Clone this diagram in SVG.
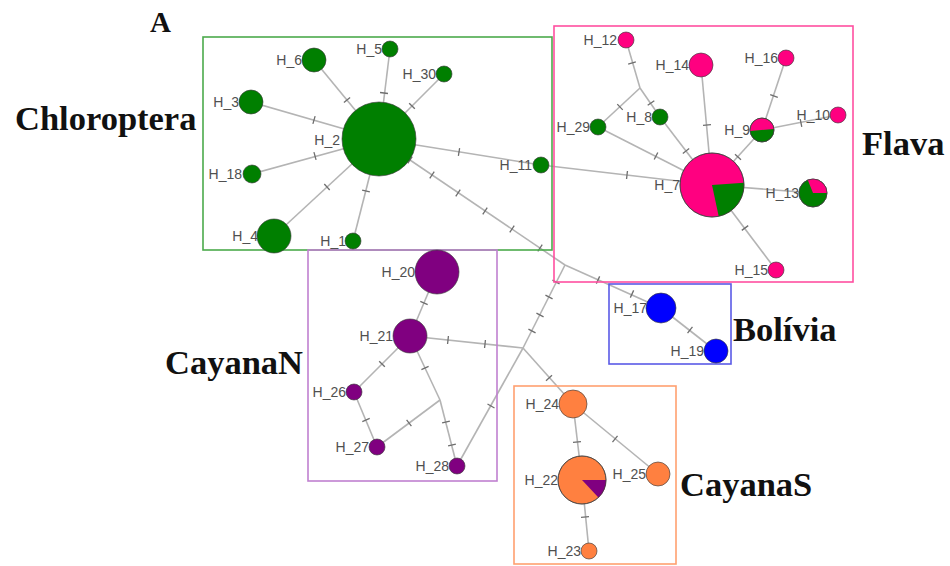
<svg xmlns="http://www.w3.org/2000/svg" xmlns:xlink="http://www.w3.org/1999/xlink" width="950" height="566" viewBox="0 0 950 566">
  <style>
    .ln { stroke: #b4b4b4; stroke-width: 1.6; fill: none; }
    .tk { stroke: #6e6e6e; stroke-width: 1.3; fill: none; }
    .box { fill: none; stroke-width: 1.6; }
    .nd { stroke: #3a3a3a; stroke-width: 0.8; stroke-opacity: 0.8; }
    .g { fill: #007f00; }
    .p { fill: #ff0080; }
    .v { fill: #800080; }
    .b { fill: #0000ff; }
    .o { fill: #ff8040; }
    .lb { font-family: "Liberation Sans", Arial, sans-serif; font-size: 14px; fill: #505050; text-anchor: end; }
    .grp { font-family: "Liberation Serif", "Times New Roman", serif; font-weight: bold; font-size: 34.5px; fill: #111; }
  </style>
  <defs>
    <path id="tick" d="M0,-4V4"/>
  </defs>

  <rect width="950" height="566" fill="#ffffff"/>

  <!-- connectors -->
  <g id="connectors">
    <!-- Chloroptera star around H_2 -->
    <line class="ln" x1="379" y1="139" x2="314" y2="60"/>
    <line class="ln" x1="379" y1="139" x2="251" y2="102"/>
    <line class="ln" x1="379" y1="139" x2="390" y2="49"/>
    <line class="ln" x1="379" y1="139" x2="444" y2="74"/>
    <line class="ln" x1="379" y1="139" x2="541" y2="165"/>
    <line class="ln" x1="379" y1="139" x2="252" y2="174"/>
    <line class="ln" x1="379" y1="139" x2="274" y2="236"/>
    <line class="ln" x1="379" y1="139" x2="353" y2="241"/>
    <line class="ln" x1="379" y1="139" x2="565" y2="265"/>
    <!-- central junctions -->
    <line class="ln" x1="565" y1="265" x2="661" y2="308"/>
    <line class="ln" x1="565" y1="265" x2="523" y2="348"/>
    <line class="ln" x1="523" y1="348" x2="410" y2="336"/>
    <line class="ln" x1="523" y1="348" x2="573" y2="404"/>
    <line class="ln" x1="523" y1="348" x2="457" y2="466"/>
    <!-- CayanaN -->
    <line class="ln" x1="410" y1="336" x2="437" y2="272"/>
    <line class="ln" x1="410" y1="336" x2="354" y2="392"/>
    <line class="ln" x1="410" y1="336" x2="440" y2="400"/>
    <line class="ln" x1="440" y1="400" x2="377" y2="447"/>
    <line class="ln" x1="440" y1="400" x2="457" y2="466"/>
    <line class="ln" x1="354" y1="392" x2="377" y2="447"/>
    <!-- Flava -->
    <line class="ln" x1="626" y1="40" x2="640" y2="88"/>
    <line class="ln" x1="640" y1="88" x2="598" y2="127"/>
    <line class="ln" x1="640" y1="88" x2="660" y2="117"/>
    <line class="ln" x1="660" y1="117" x2="712" y2="185"/>
    <line class="ln" x1="598" y1="127" x2="712" y2="185"/>
    <line class="ln" x1="701" y1="65" x2="712" y2="185"/>
    <line class="ln" x1="541" y1="165" x2="712" y2="185"/>
    <line class="ln" x1="762" y1="130" x2="712" y2="185"/>
    <line class="ln" x1="762" y1="130" x2="786" y2="58"/>
    <line class="ln" x1="762" y1="130" x2="838" y2="115"/>
    <line class="ln" x1="712" y1="185" x2="813" y2="193"/>
    <line class="ln" x1="712" y1="185" x2="776" y2="270"/>
    <!-- Bolivia -->
    <line class="ln" x1="661" y1="308" x2="716" y2="351"/>
    <!-- CayanaS -->
    <line class="ln" x1="573" y1="404" x2="582" y2="480"/>
    <line class="ln" x1="573" y1="404" x2="658" y2="474"/>
    <line class="ln" x1="582" y1="480" x2="589" y2="551"/>

    <!-- mutation ticks -->
    <g class="tk">
      <use xlink:href="#tick" transform="translate(347,100) rotate(50.6)"/>
      <use xlink:href="#tick" transform="translate(314,120) rotate(16.1)"/>
      <use xlink:href="#tick" transform="translate(384,93) rotate(-83)"/>
      <use xlink:href="#tick" transform="translate(412,106) rotate(-45)"/>
      <use xlink:href="#tick" transform="translate(459,152) rotate(9.1)"/>
      <use xlink:href="#tick" transform="translate(315,156) rotate(-15.4)"/>
      <use xlink:href="#tick" transform="translate(327,187) rotate(-42.7)"/>
      <use xlink:href="#tick" transform="translate(366,191) rotate(-75.7)"/>
      <use xlink:href="#tick" transform="translate(410,160) rotate(34.1)"/>
      <use xlink:href="#tick" transform="translate(432,175) rotate(34.1)"/>
      <use xlink:href="#tick" transform="translate(458,193) rotate(34.1)"/>
      <use xlink:href="#tick" transform="translate(485,211) rotate(34.1)"/>
      <use xlink:href="#tick" transform="translate(512,229) rotate(34.1)"/>
      <use xlink:href="#tick" transform="translate(540,248) rotate(34.1)"/>
      <use xlink:href="#tick" transform="translate(598,280) rotate(24.4)"/>
      <use xlink:href="#tick" transform="translate(632,294) rotate(24.4)"/>
      <use xlink:href="#tick" transform="translate(556,282) rotate(-63.2)"/>
      <use xlink:href="#tick" transform="translate(549,297) rotate(-63.2)"/>
      <use xlink:href="#tick" transform="translate(540,315) rotate(-63.2)"/>
      <use xlink:href="#tick" transform="translate(532,331) rotate(-63.2)"/>
      <use xlink:href="#tick" transform="translate(448,340) rotate(6.1)"/>
      <use xlink:href="#tick" transform="translate(485,344) rotate(6.1)"/>
      <use xlink:href="#tick" transform="translate(549,378) rotate(48.7)"/>
      <use xlink:href="#tick" transform="translate(491,406) rotate(-60.8)"/>
      <use xlink:href="#tick" transform="translate(424,303) rotate(-67)"/>
      <use xlink:href="#tick" transform="translate(382,364) rotate(-45)"/>
      <use xlink:href="#tick" transform="translate(425,368) rotate(64.9)"/>
      <use xlink:href="#tick" transform="translate(409,423) rotate(-36.7)"/>
      <use xlink:href="#tick" transform="translate(446,422) rotate(75.6)"/>
      <use xlink:href="#tick" transform="translate(452,445) rotate(75.6)"/>
      <use xlink:href="#tick" transform="translate(366,420) rotate(67.3)"/>
      <use xlink:href="#tick" transform="translate(632,63) rotate(73.7)"/>
      <use xlink:href="#tick" transform="translate(620,107) rotate(-43)"/>
      <use xlink:href="#tick" transform="translate(651,103) rotate(55.4)"/>
      <use xlink:href="#tick" transform="translate(686,151) rotate(52.1)"/>
      <use xlink:href="#tick" transform="translate(656,156) rotate(26.8)"/>
      <use xlink:href="#tick" transform="translate(707,125) rotate(84.3)"/>
      <use xlink:href="#tick" transform="translate(627,175) rotate(6.6)"/>
      <use xlink:href="#tick" transform="translate(738,157) rotate(-48.3)"/>
      <use xlink:href="#tick" transform="translate(774,96) rotate(-71.6)"/>
      <use xlink:href="#tick" transform="translate(801,123) rotate(-11.2)"/>
      <use xlink:href="#tick" transform="translate(745,228) rotate(53.5)"/>
      <use xlink:href="#tick" transform="translate(690,330) rotate(38)"/>
      <use xlink:href="#tick" transform="translate(577,442) rotate(83.2)"/>
      <use xlink:href="#tick" transform="translate(615,439) rotate(39.5)"/>
      <use xlink:href="#tick" transform="translate(585,517) rotate(84.4)"/>
    </g>
  </g>

  <!-- group frames -->
  <g id="frames">
    <rect class="box" x="203" y="37" width="349" height="213" stroke="#4caa4c"/>
    <rect class="box" x="554" y="26" width="299" height="256" stroke="#ff4fa0"/>
    <rect class="box" x="308" y="250" width="189" height="231" stroke="#c080d0"/>
    <rect class="box" x="609" y="284" width="122" height="80" stroke="#5a5ae6"/>
    <rect class="box" x="514" y="386" width="162" height="178" stroke="#ffa070"/>
  </g>

  <!-- Chloroptera haplotypes -->
  <g id="H_2"><circle class="nd g" cx="379" cy="139" r="37"/><text class="lb" x="340" y="145">H_2</text></g>
  <g id="H_6"><circle class="nd g" cx="314" cy="60" r="12"/><text class="lb" x="302" y="65">H_6</text></g>
  <g id="H_3"><circle class="nd g" cx="251" cy="102" r="12"/><text class="lb" x="239" y="107">H_3</text></g>
  <g id="H_5"><circle class="nd g" cx="390" cy="49" r="8"/><text class="lb" x="382" y="54">H_5</text></g>
  <g id="H_30"><circle class="nd g" cx="444" cy="74" r="8"/><text class="lb" x="436" y="79">H_30</text></g>
  <g id="H_11"><circle class="nd g" cx="541" cy="165" r="8"/><text class="lb" x="532" y="170">H_11</text></g>
  <g id="H_18"><circle class="nd g" cx="252" cy="174" r="9"/><text class="lb" x="242" y="179">H_18</text></g>
  <g id="H_4"><circle class="nd g" cx="274" cy="236" r="17"/><text class="lb" x="258" y="241">H_4</text></g>
  <g id="H_1"><circle class="nd g" cx="353" cy="241" r="8"/><text class="lb" x="346" y="246">H_1</text></g>

  <!-- Flava haplotypes -->
  <g id="H_12"><circle class="nd p" cx="626" cy="40" r="8"/><text class="lb" x="617" y="45">H_12</text></g>
  <g id="H_14"><circle class="nd p" cx="701" cy="65" r="12"/><text class="lb" x="689" y="70">H_14</text></g>
  <g id="H_8"><circle class="nd g" cx="660" cy="117" r="8"/><text class="lb" x="652" y="122">H_8</text></g>
  <g id="H_29"><circle class="nd g" cx="598" cy="127" r="8"/><text class="lb" x="590" y="132">H_29</text></g>
  <g id="H_16"><circle class="nd p" cx="786" cy="58" r="8"/><text class="lb" x="778" y="63">H_16</text></g>
  <g id="H_10"><circle class="nd p" cx="838" cy="115" r="8"/><text class="lb" x="830" y="120">H_10</text></g>
  <g id="H_9">
    <circle class="nd g" cx="762" cy="130" r="12"/>
    <path class="p" d="M750.05,131.05 A12,12 0 0,1 773.95,128.95 Z"/>
    <circle cx="762" cy="130" r="12" fill="none" class="nd"/>
    <text class="lb" x="750" y="135">H_9</text>
  </g>
  <g id="H_7">
    <circle class="nd p" cx="712" cy="185" r="32"/>
    <path class="g" d="M712,185 L743.9,182.8 A32,32 0 0,1 718.7,216.3 Z"/>
    <circle cx="712" cy="185" r="32" fill="none" class="nd"/>
    <text class="lb" x="680" y="190">H_7</text>
  </g>
  <g id="H_13">
    <circle class="nd g" cx="813" cy="193" r="14"/>
    <path class="p" d="M813,193 L807.8,180 A14,14 0 0,1 827,193 Z"/>
    <circle cx="813" cy="193" r="14" fill="none" class="nd"/>
    <text class="lb" x="799" y="198">H_13</text>
  </g>
  <g id="H_15"><circle class="nd p" cx="776" cy="270" r="8"/><text class="lb" x="768" y="275">H_15</text></g>

  <!-- Bolivia haplotypes -->
  <g id="H_17"><circle class="nd b" cx="661" cy="308" r="15"/><text class="lb" x="647" y="313">H_17</text></g>
  <g id="H_19"><circle class="nd b" cx="716" cy="351" r="12"/><text class="lb" x="704" y="356">H_19</text></g>

  <!-- CayanaN haplotypes -->
  <g id="H_20"><circle class="nd v" cx="437" cy="272" r="22"/><text class="lb" x="415" y="277">H_20</text></g>
  <g id="H_21"><circle class="nd v" cx="410" cy="336" r="17"/><text class="lb" x="393" y="341">H_21</text></g>
  <g id="H_26"><circle class="nd v" cx="354" cy="392" r="8"/><text class="lb" x="346" y="397">H_26</text></g>
  <g id="H_27"><circle class="nd v" cx="377" cy="447" r="8"/><text class="lb" x="369" y="452">H_27</text></g>
  <g id="H_28"><circle class="nd v" cx="457" cy="466" r="8"/><text class="lb" x="449" y="471">H_28</text></g>

  <!-- CayanaS haplotypes -->
  <g id="H_24"><circle class="nd o" cx="573" cy="404" r="14"/><text class="lb" x="559" y="409">H_24</text></g>
  <g id="H_22">
    <circle class="nd o" cx="582" cy="480" r="24"/>
    <path class="v" d="M582,480 L606,480 A24,24 0 0,1 598.4,497.6 Z"/>
    <circle cx="582" cy="480" r="24" fill="none" class="nd"/>
    <text class="lb" x="558" y="485">H_22</text>
  </g>
  <g id="H_25"><circle class="nd o" cx="658" cy="474" r="12"/><text class="lb" x="646" y="479">H_25</text></g>
  <g id="H_23"><circle class="nd o" cx="589" cy="551" r="8"/><text class="lb" x="581" y="556">H_23</text></g>

  <!-- panel and group titles -->
  <g id="titles">
    <text class="grp" x="150" y="32" style="font-size:29px">A</text>
    <text class="grp" x="15" y="130">Chloroptera</text>
    <text class="grp" x="862" y="155">Flava</text>
    <text class="grp" x="733" y="341">Bolívia</text>
    <text class="grp" x="165" y="374">CayanaN</text>
    <text class="grp" x="680" y="496">CayanaS</text>
  </g>
</svg>
